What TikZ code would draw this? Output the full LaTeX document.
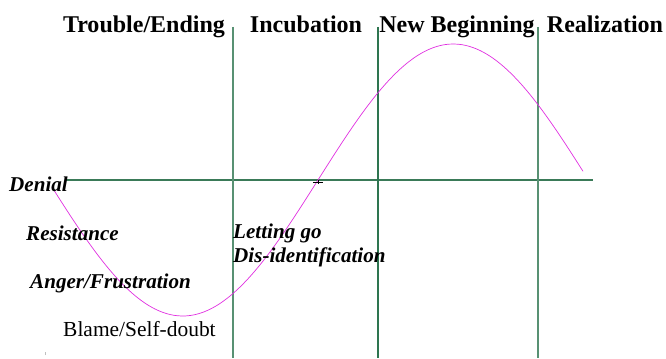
\documentclass[tikz,border=0pt]{standalone}
\usepackage{fontspec}
\setmainfont{Liberation Serif}
\usepackage{xcolor}
\usepackage{tikz}
\definecolor{PhaseLine}{HTML}{2E7550}
\definecolor{AxisLine}{HTML}{3A7A58}
\definecolor{CurveMag}{HTML}{E030E0}
\tikzset{
  phase/.style={font=\fontsize{20.5}{23}\selectfont\bfseries,inner sep=0pt,anchor=base},
  stage/.style={font=\fontsize{18}{20}\selectfont\bfseries\itshape,inner sep=0pt,anchor=base west},
  plainstage/.style={font=\fontsize{18.3}{20}\selectfont,inner sep=0pt,anchor=base west}
}

\begin{document}
\begin{tikzpicture}[x=0.03cm,y=0.03cm]
\path[use as bounding box] (0,0) rectangle (666,358);
% axis and phase dividers
\draw[AxisLine,line width=0.9pt] (66,178) -- (593,178);
\draw[PhaseLine!80,line width=0.9pt] (233,331) -- (233,0);
\draw[PhaseLine,line width=0.9pt] (378,331) -- (378,0);
\draw[PhaseLine!80,line width=0.9pt] (538,331) -- (538,0);
% transition curve
\draw[CurveMag,line width=0.6pt] plot[domain=52:583,samples=120,smooth] (\x,{178+136*sin((\x-318)/541*360)});
\draw[black,line width=0.5pt] (313,176) -- (323,176);
\draw[black,line width=0.4pt] (318,174) -- (318,178);
\draw[black!25,line width=0.4pt] (45,3) -- (45,6);
% phase titles
\node[phase] (trouble) at (144,325) {Trouble/Ending};
\node[phase] (incub) at (306,325) {Incubation};
\node[phase] (newbeg) at (457,325) {New Beginning};
\node[phase] (realiz) at (605,325) {Realization};
% stages
\node[stage] (denial) at (9,167) {Denial};
\node[stage] (resist) at (26,118) {Resistance};
\node[stage] (anger) at (30,70) {Anger/Frustration};
\node[plainstage] (blame) at (63,22) {Blame/Self-doubt};
\node[stage] (letgo) at (233,119) {Letting go};
\node[stage] (disid) at (233,96) {Dis-identification};
\end{tikzpicture}
\end{document}
